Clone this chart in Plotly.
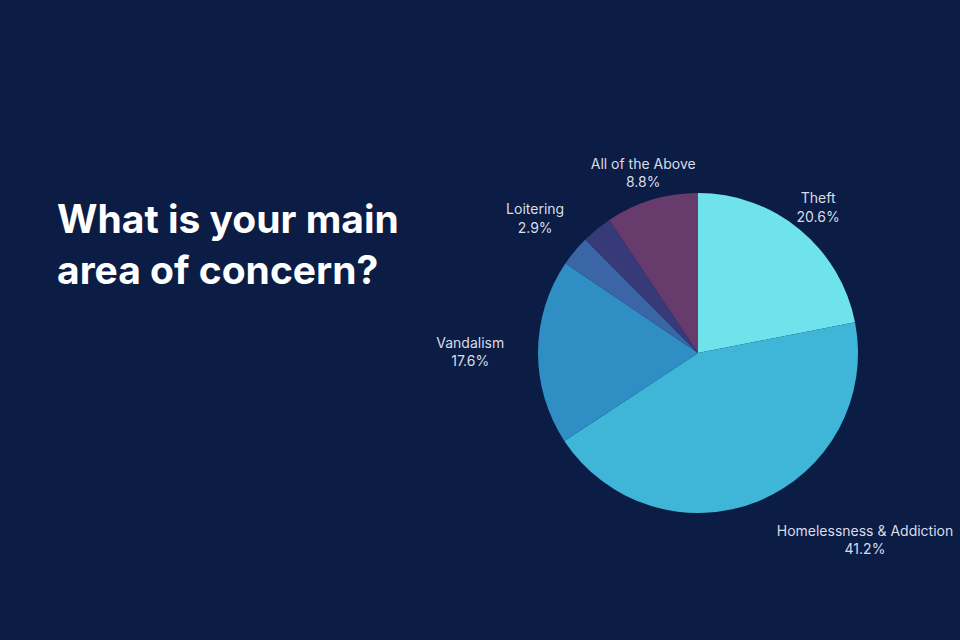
import plotly.graph_objects as go

categories = ["Theft", "Homelessness & Addiction", "Vandalism", "Loitering", "Other", "All of the Above"]
values = [20.6, 41.2, 17.6, 2.9, 2.9, 8.8]
label_text = ["Theft<br>20.6%", "Homelessness & Addiction<br>41.2%", "Vandalism<br>17.6%",
              "Loitering<br>2.9%", "", "All of the Above<br>8.8%"]
colors = ["#6fe3ec", "#3fb6d8", "#2f8fc4", "#3a66a6", "#363a78", "#673b6c"]

# which labels sit in the upper ring and which hang outside the lower pie
upper_labels = {"Theft", "Loitering", "All of the Above"}
lower_labels = {"Homelessness & Addiction", "Vandalism"}
ring_text = [t if c in upper_labels else "" for c, t in zip(categories, label_text)]
outer_text = [t if c in lower_labels else "" for c, t in zip(categories, label_text)]

bg = "#0b1c45"
font_family = "Inter, 'Open Sans', sans-serif"
label_font = dict(family=font_family, size=14, color="#d9dde8")
W, H = 960, 640

cx, cy, r = 698, H - 353, 160   # pie centre (px from left / bottom) and radius
ring_out, ring_in = 232, 146    # invisible ring carrying the upper labels
r_lab = 185                     # invisible pie carrying the lower labels


def dom(rad):
    return dict(x=[(cx - rad) / W, (cx + rad) / W], y=[(cy - rad) / H, (cy + rad) / H])


common = dict(labels=categories, values=values, sort=False, direction="clockwise",
              rotation=0, showlegend=False)
clear = dict(colors=["rgba(0,0,0,0)"] * len(values), line=dict(width=0))

fig = go.Figure()
fig.add_trace(go.Pie(
    **common,
    textinfo="none",
    marker=dict(colors=colors, line=dict(width=0)),
    domain=dom(r),
))
fig.add_trace(go.Pie(
    **common,
    text=ring_text,
    textinfo="text",
    textposition="inside",
    insidetextorientation="horizontal",
    hole=ring_in / ring_out,
    marker=clear,
    insidetextfont=label_font,
    hoverinfo="skip",
    domain=dom(ring_out),
))
fig.add_trace(go.Pie(
    **common,
    text=outer_text,
    textinfo="text",
    textposition="outside",
    marker=clear,
    outsidetextfont=label_font,
    hoverinfo="skip",
    domain=dom(r_lab),
))

fig.update_layout(
    width=W, height=H,
    paper_bgcolor=bg, plot_bgcolor=bg,
    margin=dict(l=0, r=0, t=0, b=0),
    uniformtext=dict(mode="show", minsize=14),
    annotations=[dict(
        text="What is your main<br>area of concern?",
        x=55 / W, xanchor="left", xref="paper",
        y=1 - 244 / H, yanchor="middle", yref="paper",
        align="left", showarrow=False,
        font=dict(family=font_family, size=39, color="#ffffff", weight=700),
    )],
)

fig.write_html("out.html")
